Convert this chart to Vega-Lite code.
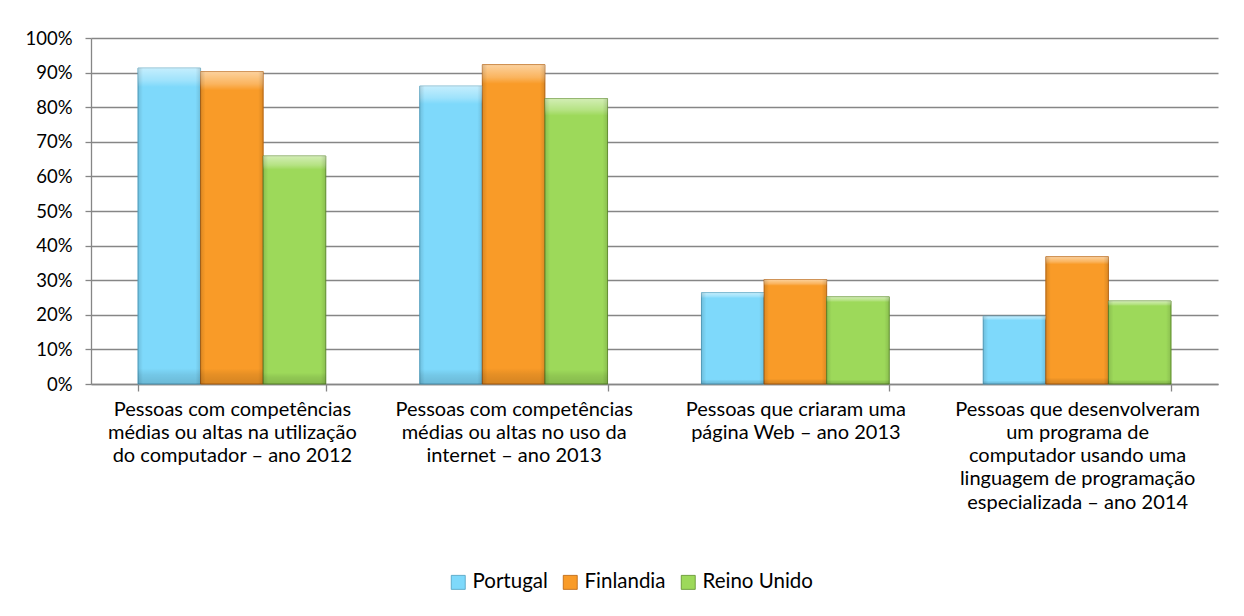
{
  "$schema": "https://vega.github.io/schema/vega-lite/v6.json",
  "autosize": "none",
  "width": 1127,
  "height": 346,
  "padding": {"left": 91, "top": 38, "right": 26, "bottom": 232},
  "background": "white",
  "config": {
    "font": "Lato",
    "view": {"stroke": null},
    "axis": {"labelFont": "Lato", "labelFontSize": 18, "labelColor": "#000000", "domainColor": "#868686", "tickColor": "#868686", "gridColor": "#868686", "domainWidth": 1.3, "tickWidth": 1.3, "gridWidth": 1.3}
  },
  "data": {
    "values": [
      {"categoria": "Pessoas com competências\nmédias ou altas na utilização\ndo computador – ano 2012", "pais": "Portugal", "valor": 0.913},
      {"categoria": "Pessoas com competências\nmédias ou altas na utilização\ndo computador – ano 2012", "pais": "Finlandia", "valor": 0.903},
      {"categoria": "Pessoas com competências\nmédias ou altas na utilização\ndo computador – ano 2012", "pais": "Reino Unido", "valor": 0.659},
      {"categoria": "Pessoas com competências\nmédias ou altas no uso da\ninternet – ano 2013", "pais": "Portugal", "valor": 0.861},
      {"categoria": "Pessoas com competências\nmédias ou altas no uso da\ninternet – ano 2013", "pais": "Finlandia", "valor": 0.923},
      {"categoria": "Pessoas com competências\nmédias ou altas no uso da\ninternet – ano 2013", "pais": "Reino Unido", "valor": 0.825},
      {"categoria": "Pessoas que criaram uma\npágina Web – ano 2013", "pais": "Portugal", "valor": 0.264},
      {"categoria": "Pessoas que criaram uma\npágina Web – ano 2013", "pais": "Finlandia", "valor": 0.302},
      {"categoria": "Pessoas que criaram uma\npágina Web – ano 2013", "pais": "Reino Unido", "valor": 0.252},
      {"categoria": "Pessoas que desenvolveram\num programa de\ncomputador usando uma\nlinguagem de programação\nespecializada – ano 2014", "pais": "Portugal", "valor": 0.196},
      {"categoria": "Pessoas que desenvolveram\num programa de\ncomputador usando uma\nlinguagem de programação\nespecializada – ano 2014", "pais": "Finlandia", "valor": 0.368},
      {"categoria": "Pessoas que desenvolveram\num programa de\ncomputador usando uma\nlinguagem de programação\nespecializada – ano 2014", "pais": "Reino Unido", "valor": 0.240}
    ]
  },
  "encoding": {
    "x": {
      "field": "categoria", "type": "nominal", "sort": null, "title": null,
      "scale": {"paddingInner": 0.3333, "paddingOuter": 0.16667},
      "axis": {"labelAngle": 0, "tickBand": "extent", "tickSize": 7, "labelPadding": 8, "labelBaseline": "top", "labelFontSize": 20, "labelLineHeight": 23.3, "labelLimit": 400, "labelExpr": "isValid(datum.value) ? split(datum.value, '\\n') : ''", "grid": false}
    },
    "xOffset": {"field": "pais", "type": "nominal", "sort": ["Portugal", "Finlandia", "Reino Unido"], "scale": {"paddingInner": 0, "paddingOuter": 0}},
    "y": {
      "field": "valor", "type": "quantitative", "title": null,
      "scale": {"domain": [0, 1], "nice": false},
      "axis": {"values": [0, 0.1, 0.2, 0.3, 0.4, 0.5, 0.6, 0.7, 0.8, 0.9, 1.0], "format": ".0%", "tickSize": 6, "labelPadding": 13, "labelFontSize": 18.5, "grid": true}
    }
  },
  "layer": [
    {
      "mark": {"type": "bar", "strokeWidth": 1, "strokeOpacity": 0.9},
      "encoding": {
        "color": {
          "field": "pais", "type": "nominal", "sort": ["Portugal", "Finlandia", "Reino Unido"],
          "scale": {"domain": ["Portugal", "Finlandia", "Reino Unido"], "range": ["#7ED9FB", "#F99B28", "#9DD95A"]},
          "legend": {
            "title": null, "orient": "none", "direction": "horizontal", "legendX": 357, "legendY": 534,
            "symbolType": "square", "symbolSize": 196, "symbolStrokeColor": "#777777", "symbolStrokeWidth": 0.8,
            "labelFont": "Lato", "labelFontSize": 20.5, "labelColor": "#000000", "labelOffset": 4, "columnPadding": 12, "labelLimit": 300
          }
        },
        "stroke": {
          "field": "pais", "type": "nominal",
          "scale": {"domain": ["Portugal", "Finlandia", "Reino Unido"], "range": ["#4E9FBF", "#B8620C", "#5E8F2A"]},
          "legend": null
        }
      }
    },
    {
      "mark": {
        "type": "bar",
        "fill": {"gradient": "linear", "x1": 0, "y1": 0, "x2": 0, "y2": 1, "stops": [
          {"offset": 0, "color": "rgba(255,255,255,0.55)"},
          {"offset": 0.04, "color": "rgba(255,255,255,0.25)"},
          {"offset": 0.06, "color": "rgba(255,255,255,0)"},
          {"offset": 0.95, "color": "rgba(0,0,0,0)"},
          {"offset": 0.97, "color": "rgba(0,0,0,0.08)"},
          {"offset": 1, "color": "rgba(0,0,0,0.15)"}
        ]}
      }
    },
    {
      "mark": {
        "type": "bar",
        "fill": {"gradient": "linear", "x1": 0, "y1": 0, "x2": 1, "y2": 0, "stops": [
          {"offset": 0, "color": "rgba(0,0,0,0.12)"},
          {"offset": 0.08, "color": "rgba(0,0,0,0)"},
          {"offset": 0.92, "color": "rgba(0,0,0,0)"},
          {"offset": 1, "color": "rgba(0,0,0,0.12)"}
        ]}
      }
    }
  ]
}
